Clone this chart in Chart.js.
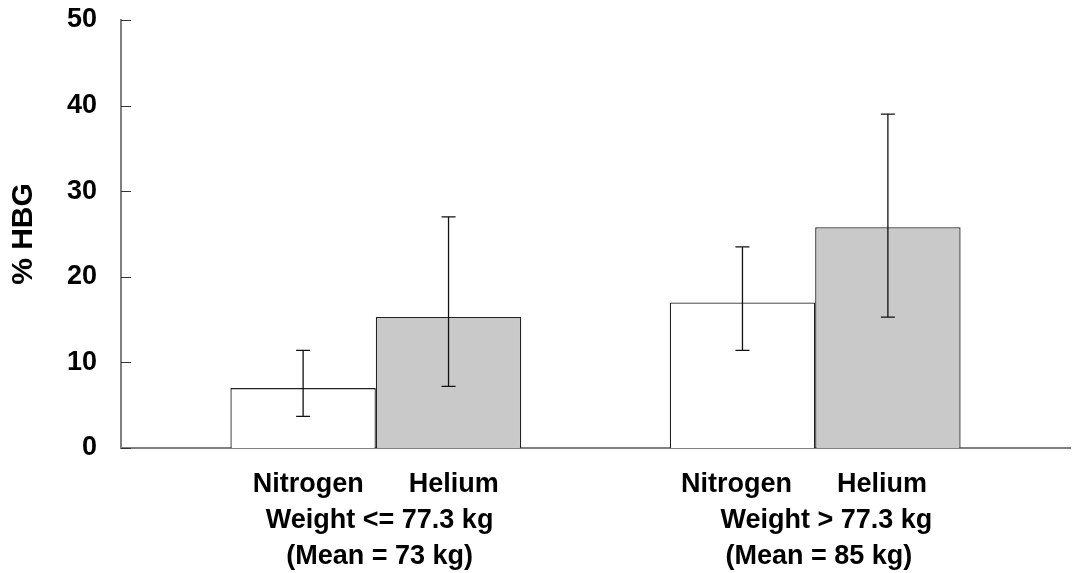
<!DOCTYPE html>
<html>
<head>
<meta charset="utf-8">
<script src="https://cdn.jsdelivr.net/npm/chart.js@4.4.0/dist/chart.umd.min.js"></script>
<style>
    body { margin: 0; background: #fff; }
    #wrap { width: 1075px; height: 573px; }
</style>
</head>
<body>
<div id="wrap"><canvas id="hbg"></canvas></div>
<script>
// posizione dei due gruppi sull'asse x
const groupPos = [1, 2];
const groupLabels = [
    ["Nitrogen      Helium", " Weight <= 77.3 kg", " (Mean = 73 kg)"],
    ["Nitrogen      Helium   ", "   Weight > 77.3 kg", " (Mean = 85 kg)"],
];
const nitrogen = [7.0, 17.0];
const nitrogenHigh = [11.4, 23.5];
const nitrogenLow = [3.7, 11.4];
const helium = [15.3, 25.8];
const heliumHigh = [27.0, 39.0];
const heliumLow = [7.2, 15.3];
const yTicks = [0, 10, 20, 30, 40, 50];

const FONT = "'Liberation Sans', Arial, sans-serif";

// barre di errore con cappuccio
const errorBars = {
    id: "errorBars",
    afterDatasetsDraw(chart) {
        const ctx = chart.ctx;
        const y = chart.scales.y;
        const highs = [nitrogenHigh, heliumHigh];
        const lows = [nitrogenLow, heliumLow];
        ctx.save();
        ctx.strokeStyle = "#111";
        ctx.lineWidth = 1.3;
        chart.data.datasets.forEach((ds, d) => {
            chart.getDatasetMeta(d).data.forEach((bar, i) => {
                const top = y.getPixelForValue(highs[d][i]);
                const bot = y.getPixelForValue(lows[d][i]);
                ctx.beginPath();
                ctx.moveTo(bar.x, top);
                ctx.lineTo(bar.x, bot);
                ctx.moveTo(bar.x - 7, top);
                ctx.lineTo(bar.x + 7, top);
                ctx.moveTo(bar.x - 7, bot);
                ctx.lineTo(bar.x + 7, bot);
                ctx.stroke();
            });
        });
        ctx.restore();
    },
};

// tacche verso l'interno dell'asse y
const innerTicks = {
    id: "innerTicks",
    afterDraw(chart) {
        const ctx = chart.ctx;
        const y = chart.scales.y;
        const left = chart.chartArea.left;
        ctx.save();
        ctx.strokeStyle = "#333";
        ctx.lineWidth = 1;
        yTicks.forEach((v) => {
            const py = Math.round(y.getPixelForValue(v)) + 0.5;
            ctx.beginPath();
            ctx.moveTo(left, py);
            ctx.lineTo(left + 10, py);
            ctx.stroke();
        });
        ctx.restore();
    },
};

const ctx = document.getElementById("hbg").getContext("2d");
new Chart(ctx, {
    type: "bar",
    data: {
        datasets: [
            {
                label: "Nitrogen",
                data: groupPos.map((x, i) => ({ x: x, y: nitrogen[i] })),
                backgroundColor: "#ffffff",
                borderColor: "#222222",
                borderWidth: 1.3,
            },
            {
                label: "Helium",
                data: groupPos.map((x, i) => ({ x: x, y: helium[i] })),
                backgroundColor: "#c9c9c9",
                borderColor: "#222222",
                borderWidth: 1.3,
            },
        ],
    },
    options: {
        responsive: true,
        maintainAspectRatio: false,
        animation: false,
        datasets: {
            bar: {
                barPercentage: 1,
                categoryPercentage: 0.662,
            },
        },
        layout: {
            padding: { top: 20, right: 5, left: 0, bottom: 0 },
        },
        plugins: {
            legend: { display: false },
            tooltip: { enabled: false },
        },
        scales: {
            x: {
                type: "linear",
                offset: false,
                min: 0.42,
                max: 2.58,
                grid: { display: false, drawTicks: false, offset: false },
                border: { display: true, color: "#808080", width: 2 },
                afterBuildTicks: (scale) => {
                    scale.ticks = groupPos.map((v) => ({ value: v }));
                },
                afterFit: (scale) => {
                    scale.height = 125;
                },
                ticks: {
                    color: "#000",
                    padding: 19,
                    maxRotation: 0,
                    autoSkip: false,
                    font: { family: FONT, size: 27, weight: "bold", lineHeight: 1.333 },
                    callback: (value) => groupLabels[groupPos.indexOf(value)],
                },
            },
            y: {
                min: 0,
                max: 50,
                grid: { display: false, drawTicks: false },
                border: { display: true, color: "#808080", width: 2 },
                afterBuildTicks: (scale) => {
                    scale.ticks = yTicks.map((v) => ({ value: v }));
                },
                afterFit: (scale) => {
                    scale.width = 121;
                    scale.paddingTop = 0;
                    scale.paddingBottom = 0;
                },
                ticks: {
                    color: "#000",
                    padding: 24,
                    font: { family: FONT, size: 27, weight: "bold" },
                },
                title: {
                    display: true,
                    text: "% HBG",
                    color: "#000",
                    padding: { top: 6, bottom: 0 },
                    font: { family: FONT, size: 30, weight: "bold" },
                },
            },
        },
    },
    plugins: [errorBars, innerTicks],
});
</script>
</body>
</html>
